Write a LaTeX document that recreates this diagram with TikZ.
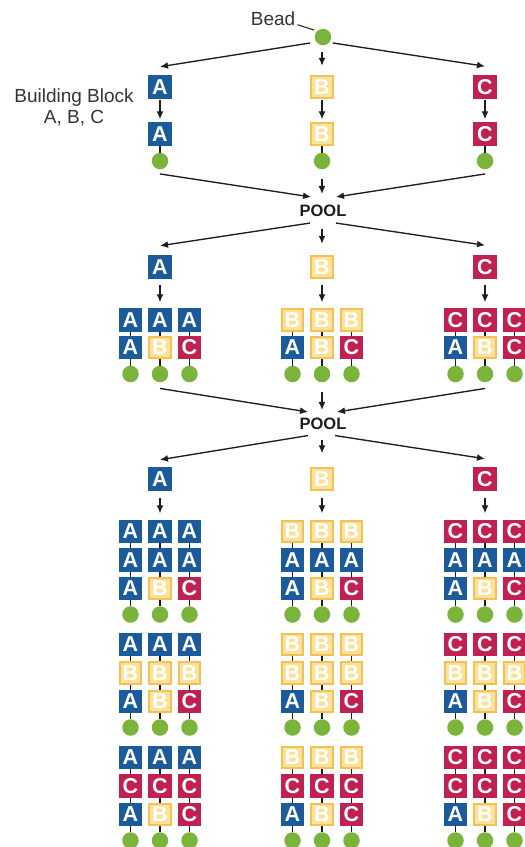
\documentclass[tikz,border=0pt]{standalone}
\usepackage{fontspec}
\setmainfont{Liberation Sans}
\usetikzlibrary{arrows.meta}

\definecolor{fillA}{HTML}{1C5B9B}
\definecolor{lineA}{HTML}{1C5B9B}
\definecolor{fillB}{HTML}{FBE199}
\definecolor{lineB}{HTML}{F4C155}
\definecolor{fillC}{HTML}{C22050}
\definecolor{lineC}{HTML}{C22050}
\definecolor{beadgreen}{HTML}{7AB43A}
\definecolor{ink}{HTML}{1E1E1E}

\begin{document}
\begin{tikzpicture}[x=1pt,y=-1pt,
  blk/.style={minimum size=21.3pt, inner sep=0pt, line width=2.2pt,
    text=white, font=\fontsize{21.5}{21.5}\selectfont\bfseries},
  letter/.style={blk, fill=fill#1, draw=line#1},
  bead/.style={circle, fill=beadgreen, minimum size=16.5pt, inner sep=0pt},
  link/.style={draw=ink, line width=1.2pt},
  arr/.style={draw=ink, line width=1.35pt, -{Latex[length=8pt,width=7pt]}},
  pool/.style={font=\fontsize{16.5}{16.5}\selectfont\bfseries, text=ink, inner sep=0pt},
  lbl/.style={font=\fontsize{19}{20.5}\selectfont, text=ink!90, align=center, inner sep=0pt}
]
\clip (0,0) rectangle (525,847);
\fill[white] (0,0) rectangle (525,847);

% ---------- starting bead and labels ----------
\node[bead] (bead0) at (323,37) {};
\node[lbl, anchor=base east] (beadlbl) at (295.5,25.7) {Bead};
\draw[link, line width=1pt, shorten >=3pt] ([xshift=2pt,yshift=1pt]beadlbl.base east) -- (bead0.north west);
\node[lbl, anchor=north] (bblbl) at (74,89) {Building Block\\A, B, C};

% ---------- first coupling: one building block per bead ----------
\foreach \L/\x in {A/160,B/322,C/485} {
  \node[letter=\L] (s1-\L-top) at (\x,87) {\L};
  \node[letter=\L] (s1-\L-bot) at (\x,134) {\L};
  \node[bead] (s1-\L-bead) at (\x,161) {};
  \draw[arr, shorten <=1.5pt, shorten >=3pt] (s1-\L-top) -- (s1-\L-bot);
  \draw[link] (s1-\L-bot) -- (s1-\L-bead);
}
\draw[arr] ([xshift=-13pt,yshift=-6pt]bead0.center) -- ([yshift=8.5pt]s1-A-top.north);
\draw[arr] ([xshift=-1pt,yshift=-7pt]bead0.south) -- ([yshift=9.5pt]s1-B-top.north);
\draw[arr] ([xshift=10pt,yshift=-6pt]bead0.center) -- ([yshift=9pt]s1-C-top.north);

% ---------- first pool ----------
\node[pool] (pool1) at (323,211) {POOL};
\draw[arr] ([yshift=-4.5pt]s1-A-bead.south) -- ([xshift=-12pt,yshift=8pt]pool1.north);
\draw[arr] ([yshift=-10pt]s1-B-bead.south) -- ([xshift=-1pt,yshift=11pt]pool1.north);
\draw[arr] ([yshift=-4.5pt]s1-C-bead.south) -- ([xshift=13pt,yshift=8pt]pool1.north);

% ---------- second coupling ----------
\foreach \G/\gx in {A/160,B/322,C/485} {
  \node[letter=\G] (s2-\G) at (\gx,267) {\G};
  \foreach \c/\L/\dx in {1/A/-29.5,2/B/0,3/C/29.5} {
    \node[letter=\G] (s2-\G-\c-top) at ({\gx+\dx},320) {\G};
    \node[letter=\L] (s2-\G-\c-bot) at ({\gx+\dx},347.5) {\L};
    \node[bead] (s2-\G-\c-bead) at ({\gx+\dx},374) {};
    \draw[link] (s2-\G-\c-top) -- (s2-\G-\c-bot);
    \draw[link] (s2-\G-\c-bot) -- (s2-\G-\c-bead);
  }
  \draw[arr, shorten <=6.5pt, shorten >=6pt] (s2-\G) -- (s2-\G-2-top);
}
\draw[arr] ([xshift=-13pt,yshift=-6pt]pool1.south) -- ([yshift=9.5pt]s2-A.north);
\draw[arr] ([xshift=-1pt,yshift=-12pt]pool1.south) -- ([yshift=11.5pt]s2-B.north);
\draw[arr] ([xshift=13pt,yshift=-6pt]pool1.south) -- ([yshift=10pt]s2-C.north);

% ---------- second pool ----------
\node[pool] (pool2) at (323,424) {POOL};
\draw[arr] ([yshift=-6pt]s2-A-2-bead.south) -- ([xshift=-15pt,yshift=6pt]pool2.north);
\draw[arr] ([yshift=-10pt]s2-B-2-bead.south) -- ([xshift=-1pt,yshift=8pt]pool2.north);
\draw[arr] ([yshift=-6pt]s2-C-2-bead.south) -- ([xshift=14pt,yshift=6pt]pool2.north);

% ---------- third coupling ----------
\foreach \G/\gx in {A/160,B/322,C/485} {
  \node[letter=\G] (s3-\G) at (\gx,479) {\G};
  \foreach \k/\M in {0/A,1/B,2/C} {
    \pgfmathsetmacro\yb{531.5+113*\k}
    \foreach \c/\L/\dx in {1/A/-29.5,2/B/0,3/C/29.5} {
      \node[letter=\G] (s3-\G-\k-\c-r1) at ({\gx+\dx},\yb) {\G};
      \node[letter=\M] (s3-\G-\k-\c-r2) at ({\gx+\dx},\yb+28.5) {\M};
      \node[letter=\L] (s3-\G-\k-\c-r3) at ({\gx+\dx},\yb+57) {\L};
      \node[bead] (s3-\G-\k-\c-bead) at ({\gx+\dx},\yb+83) {};
      \draw[link] (s3-\G-\k-\c-r1) -- (s3-\G-\k-\c-r2);
      \draw[link] (s3-\G-\k-\c-r2) -- (s3-\G-\k-\c-r3);
      \draw[link] (s3-\G-\k-\c-r3) -- (s3-\G-\k-\c-bead);
    }
  }
  \draw[arr, shorten <=7.5pt, shorten >=6.5pt] (s3-\G) -- (s3-\G-0-2-r1);
}
\draw[arr] ([xshift=-15pt,yshift=-5.5pt]pool2.south) -- ([yshift=7.5pt]s3-A.north);
\draw[arr] ([xshift=-1pt,yshift=-10pt]pool2.south) -- ([yshift=14pt]s3-B.north);
\draw[arr] ([xshift=12pt,yshift=-5.5pt]pool2.south) -- ([yshift=8.5pt]s3-C.north);
\end{tikzpicture}
\end{document}
